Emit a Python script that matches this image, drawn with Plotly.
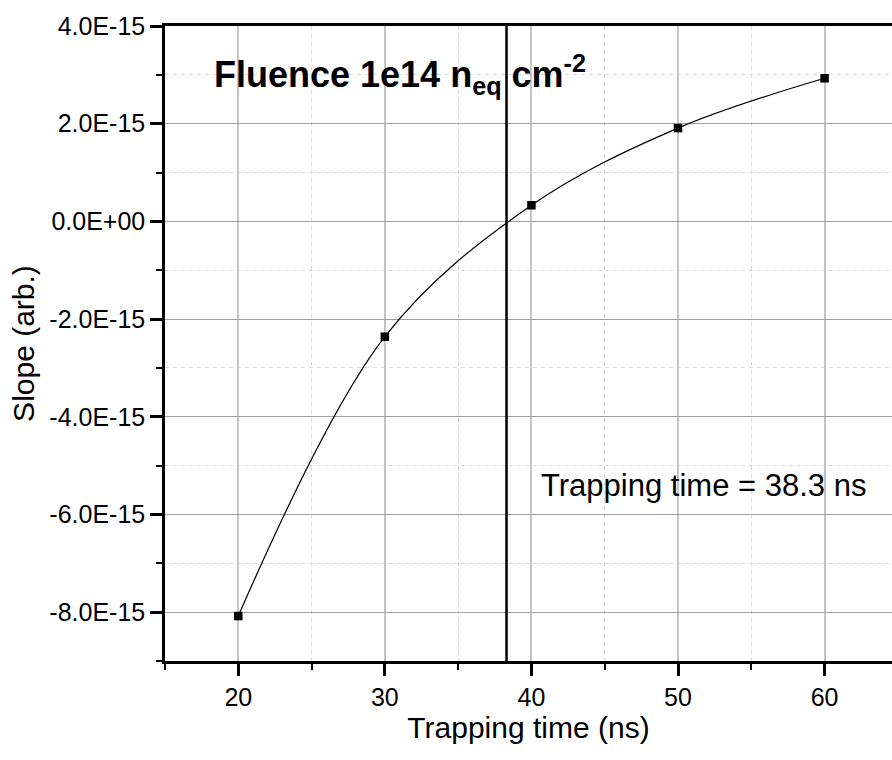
import plotly.graph_objects as go

# Data
trapping_time_ns = [20, 30, 40, 50, 60]
slope = [-8.08e-15, -2.36e-15, 0.33e-15, 1.91e-15, 2.93e-15]
trap_time_result = 38.3

y_tickvals = [-8e-15, -6e-15, -4e-15, -2e-15, 0.0, 2e-15, 4e-15]
y_ticktext = ["-8.0E-15", "-6.0E-15", "-4.0E-15", "-2.0E-15", "0.0E+00", "2.0E-15", "4.0E-15"]
x_tickvals = [20, 30, 40, 50, 60]

FONT = "Liberation Sans, Arial, sans-serif"

fig = go.Figure()
fig.add_trace(go.Scatter(
    x=trapping_time_ns, y=slope, mode="lines+markers",
    line=dict(color="black", width=1.2, shape="spline", smoothing=1.0),
    marker=dict(symbol="square", size=8.5, color="black"),
    showlegend=False, hoverinfo="x+y",
))

fig.add_shape(type="line", xref="x", yref="paper", x0=trap_time_result, x1=trap_time_result,
              y0=0, y1=1, line=dict(color="black", width=2.5))

fig.add_annotation(xref="paper", yref="paper", x=0.064, y=0.924, xanchor="left", yanchor="middle",
                   text="<b>Fluence 1e14 n<sub>eq</sub> cm<sup>-2</sup></b>", showarrow=False,
                   font=dict(family=FONT, size=36, color="black"))
fig.add_annotation(xref="paper", yref="paper", x=0.515, y=0.276, xanchor="left", yanchor="middle",
                   text=f"Trapping time = {trap_time_result} ns", showarrow=False,
                   font=dict(family=FONT, size=31, color="black"))

fig.update_layout(
    width=892, height=760,
    margin=dict(l=165, r=0, t=26, b=99),
    paper_bgcolor="white", plot_bgcolor="white",
    font=dict(family=FONT, color="black"),
)

fig.update_xaxes(
    range=[15.0, 64.6], tickvals=x_tickvals, ticks="outside", ticklen=12, tickwidth=2.5,
    tickcolor="black", showline=True, linewidth=2.5, linecolor="black", mirror=True,
    tickfont=dict(size=25), showgrid=True, gridcolor="#c4c4c4", gridwidth=1.5,
    zeroline=False,
    minor=dict(dtick=5, tick0=15, ticks="outside", ticklen=6, tickwidth=2, tickcolor="black",
               showgrid=True, gridcolor="#dadada", gridwidth=1, griddash="4px,4px"),
    title=dict(text="Trapping time (ns)", font=dict(size=30), standoff=0),
)
fig.update_yaxes(
    range=[-9e-15, 4e-15], tickvals=y_tickvals, ticktext=y_ticktext, ticks="outside", ticklen=12,
    tickwidth=2.5, tickcolor="black", showline=True, linewidth=2.5, linecolor="black", mirror=False,
    tickfont=dict(size=25), showgrid=True, gridcolor="#a0a0a0", gridwidth=1.2,
    zeroline=False,
    minor=dict(dtick=1e-15, tick0=-9e-15, ticks="outside", ticklen=6, tickwidth=2, tickcolor="black",
               showgrid=True, gridcolor="#dadada", gridwidth=1, griddash="4px,4px"),
    title=dict(text="Slope (arb.)", font=dict(size=30), standoff=6),
)

fig.write_html("out.html")
